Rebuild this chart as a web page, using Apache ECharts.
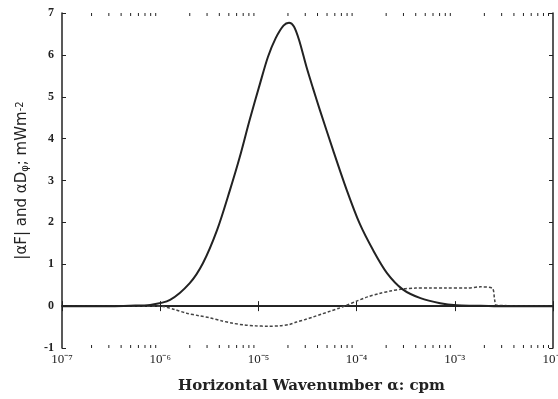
<!DOCTYPE html>
<html>
<head>
<meta charset="utf-8">
<script src="https://cdn.jsdelivr.net/npm/echarts@6/dist/echarts.min.js"></script>
<style>
  html, body { margin: 0; padding: 0; background: #fff; }
  #chart { width: 558px; height: 399px; }
</style>
</head>
<body>
<div id="chart"></div>
<script>
// wavenumber (cpm) and |alpha F| (solid curve)
const fluxX = [1e-7, 3.2e-7, 4.9e-7, 7.9e-7, 1.26e-6, 2.0e-6, 2.73e-6, 3.8e-6, 5.13e-6, 6.46e-6, 8.13e-6, 1.04e-5, 1.25e-5, 1.5e-5, 1.8e-5, 2.05e-5, 2.3e-5, 2.6e-5, 3.09e-5, 3.6e-5, 4.23e-5, 5.75e-5, 7.94e-5, 1.07e-4, 1.47e-4, 2.04e-4, 2.95e-4, 4.47e-4, 7.1e-4, 1.05e-3, 1.6e-3, 2.5e-3, 1e-2];
const fluxY = [0, 0, 0.01, 0.03, 0.15, 0.55, 1.03, 1.82, 2.77, 3.56, 4.44, 5.32, 5.95, 6.4, 6.7, 6.77, 6.68, 6.35, 5.71, 5.2, 4.68, 3.73, 2.77, 1.98, 1.34, 0.79, 0.4, 0.19, 0.07, 0.02, 0.01, 0, 0];

// wavenumber (cpm) and alpha D_phi (dotted curve)
const dissX = [1e-7, 1e-6, 1.4e-6, 1.86e-6, 2.5e-6, 3.2e-6, 4.2e-6, 5.5e-6, 7.2e-6, 9.3e-6, 1.25e-5, 1.66e-5, 2.05e-5, 2.45e-5, 3.0e-5, 3.6e-5, 4.4e-5, 5.4e-5, 6.6e-5, 7.9e-5, 1.0e-4, 1.29e-4, 1.7e-4, 2.2e-4, 2.95e-4, 4.0e-4, 5.6e-4, 8.0e-4, 1.32e-3, 1.82e-3, 2.4e-3, 2.55e-3, 2.65e-3, 1e-2];
const dissY = [0, 0, -0.08, -0.17, -0.23, -0.28, -0.35, -0.41, -0.45, -0.47, -0.48, -0.47, -0.44, -0.38, -0.32, -0.26, -0.19, -0.12, -0.05, 0.02, 0.12, 0.22, 0.3, 0.36, 0.41, 0.43, 0.43, 0.43, 0.43, 0.46, 0.43, 0.14, 0.02, 0];

const zeroX = [1e-7, 1e-2];
const zeroY = [0, 0];

const decades = [1e-7, 1e-6, 1e-5, 1e-4, 1e-3];
const minorSteps = [2, 3, 4, 5, 6, 7, 8, 9];
const yMin = -1, yMax = 7;

const supMap = { '-': '\u207B', '0': '\u2070', '1': '\u00B9', '2': '\u00B2', '3': '\u00B3', '4': '\u2074', '5': '\u2075', '6': '\u2076', '7': '\u2077', '8': '\u2078', '9': '\u2079' };
const pow10Label = (v) => {
    const e = Math.round(Math.log10(v)).toString();
    return '10' + e.split('').map(c => supMap[c]).join('');
};

const minorTicks = [];
decades.forEach(d => minorSteps.forEach(k => minorTicks.push([d * k])));

const chart = echarts.init(document.getElementById('chart'));
const ink = '#222';

chart.setOption({
    animation: false,
    grid: { left: 62, right: 5, top: 13, bottom: 51, outerBoundsMode: 'none' },
    xAxis: [
        {
            type: 'log', logBase: 10, min: 1e-7, max: 1e-2,
            name: 'Horizontal Wavenumber \u03B1: cpm',
            nameLocation: 'middle', nameGap: 31,
            nameTextStyle: { fontFamily: 'DejaVu Serif', fontSize: 15, fontWeight: 'bold', color: ink, padding: [0, 0, 0, 8] },
            axisLine: { lineStyle: { color: ink, width: 1.5 } },
            axisTick: { inside: true, length: 5, lineStyle: { color: ink } },
            axisLabel: { formatter: pow10Label, fontFamily: 'Liberation Serif', fontSize: 13, color: ink, margin: 5 },
            splitLine: { show: false }
        },
        {
            type: 'log', logBase: 10, min: 1e-7, max: 1e-2, position: 'top',
            axisLine: { lineStyle: { color: ink, width: 1.5 } },
            axisTick: { inside: true, length: 5, lineStyle: { color: ink } },
            axisLabel: { show: false },
            splitLine: { show: false }
        }
    ],
    yAxis: [
        {
            type: 'value', min: yMin, max: yMax, interval: 1,
            name: '|\u03B1F| and \u03B1D{sub|\u03C6}; mWm{sup|-2}',
            nameLocation: 'middle', nameGap: 32,
            nameTextStyle: {
                fontFamily: 'DejaVu Sans', fontSize: 15, color: ink,
                rich: {
                    sub: { fontSize: 10, verticalAlign: 'bottom', padding: [5, 0, 0, 0], fontFamily: 'DejaVu Sans', color: ink },
                    sup: { fontSize: 10, verticalAlign: 'top', padding: [0, 0, 5, 0], fontFamily: 'DejaVu Sans', color: ink }
                }
            },
            axisLine: { show: true, lineStyle: { color: ink, width: 1.5 } },
            axisTick: { show: true, inside: true, length: 4, lineStyle: { color: ink } },
            axisLabel: { fontFamily: 'Liberation Serif', fontSize: 12, fontWeight: 'bold', color: ink, margin: 8 },
            splitLine: { show: false }
        },
        {
            type: 'value', min: yMin, max: yMax, interval: 1, position: 'right',
            axisLine: { show: true, lineStyle: { color: ink, width: 1.5 } },
            axisTick: { show: true, inside: true, length: 4, lineStyle: { color: ink } },
            axisLabel: { show: false },
            splitLine: { show: false }
        }
    ],
    series: [
        {
            type: 'custom',
            silent: true,
            data: minorTicks,
            encode: { x: 0 },
            renderItem: (params, api) => {
                const b = api.coord([api.value(0), yMin]);
                const t = api.coord([api.value(0), yMax]);
                const style = { stroke: ink, lineWidth: 1 };
                return {
                    type: 'group',
                    children: [
                        { type: 'line', shape: { x1: b[0], y1: b[1], x2: b[0], y2: b[1] - 3 }, style },
                        { type: 'line', shape: { x1: t[0], y1: t[1], x2: t[0], y2: t[1] + 3 }, style }
                    ]
                };
            }
        },
        {
            type: 'line', showSymbol: false, silent: true,
            data: zeroX.map((x, i) => [x, zeroY[i]]),
            lineStyle: { color: ink, width: 1.5 }
        },
        {
            type: 'line', showSymbol: false, silent: true, smooth: 0.3,
            data: dissX.map((x, i) => [x, dissY[i]]),
            lineStyle: { color: '#444', width: 1.5, type: [3, 2] }
        },
        {
            type: 'line', showSymbol: false, silent: true, smooth: 0.3,
            data: fluxX.map((x, i) => [x, fluxY[i]]),
            lineStyle: { color: ink, width: 2 }
        }
    ]
});
</script>
</body>
</html>
